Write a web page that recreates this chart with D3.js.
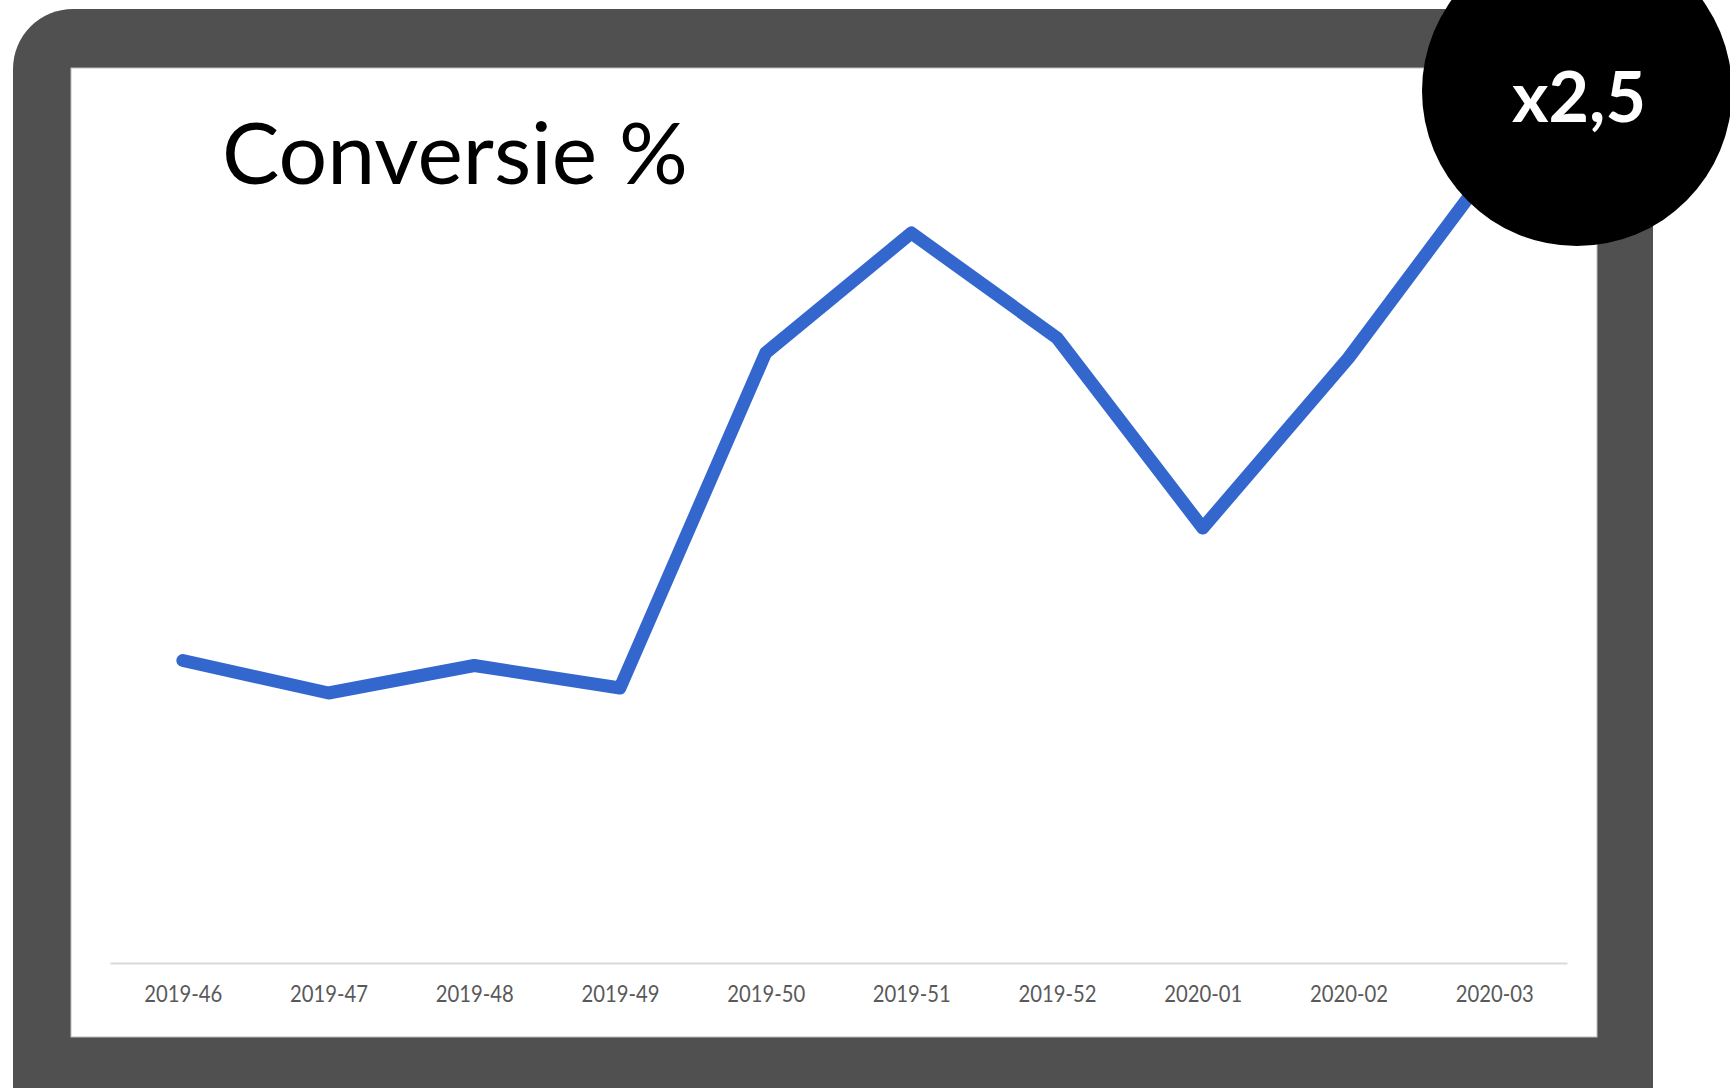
<!DOCTYPE html>
<meta charset="utf-8">

<!-- Load d3.js -->
<script src="https://d3js.org/d3.v7.min.js"></script>

<style>
  body { margin: 0; background: #ffffff; }
</style>

<!-- Create a div where the graph will take place -->
<div id="my_dataviz"></div>

<script>

// chart data
var weeks = ["2019-46", "2019-47", "2019-48", "2019-49", "2019-50",
             "2019-51", "2019-52", "2020-01", "2020-02", "2020-03"];
var conversie = [1.21, 1.08, 1.19, 1.10, 2.44, 2.92, 2.50, 1.74, 2.42, 3.20];
var title = "Conversie %";
var badge = "x2,5";

// dimensions of the page
var width = 1730,
    height = 1088;

// append the svg object to the body of the page
var svg = d3.select("#my_dataviz")
  .append("svg")
    .attr("width", width)
    .attr("height", height);

// dark screen frame
svg.append("rect")
    .attr("x", 13)
    .attr("y", 9)
    .attr("width", 1640)
    .attr("height", 1200)
    .attr("rx", 60)
    .attr("ry", 60)
    .style("fill", "#505050");

// white screen
svg.append("rect")
    .attr("x", 71)
    .attr("y", 68)
    .attr("width", 1526)
    .attr("height", 969)
    .style("fill", "#ffffff")
    .attr("stroke", "#bdbdbd")
    .attr("stroke-width", 1);

// title
svg.append("text")
    .attr("x", 222)
    .attr("y", 184)
    .attr("textLength", 466)
    .attr("lengthAdjust", "spacingAndGlyphs")
    .style("font-family", "Lato, 'Open Sans', sans-serif")
    .style("font-size", "85px")
    .style("fill", "#000000")
    .text(title);

// X axis
var x = d3.scalePoint()
  .domain(weeks)
  .range([110, 1567])
  .padding(0.5);

var xAxis = svg.append("g")
  .attr("transform", "translate(0,963)")
  .call(d3.axisBottom(x).tickSize(0).tickPadding(23));
xAxis.select(".domain")
  .attr("stroke", "#d9d9d9")
  .attr("stroke-width", 2);
xAxis.selectAll("text")
  .attr("textLength", 78)
  .attr("lengthAdjust", "spacingAndGlyphs")
  .style("font-family", "Lato, 'Open Sans', sans-serif")
  .style("font-size", "23px")
  .style("fill", "#595959");

// Y scale (no axis drawn)
var y = d3.scaleLinear()
  .domain([0, 3.6])
  .range([963, 63]);

// Line
svg.append("path")
  .datum(conversie)
  .attr("fill", "none")
  .attr("stroke", "#3467ce")
  .attr("stroke-width", 13)
  .attr("stroke-linejoin", "round")
  .attr("stroke-linecap", "round")
  .attr("d", d3.line()
    .x(function(d, i) { return x(weeks[i]); })
    .y(function(d) { return y(d); }));

// badge
svg.append("circle")
    .attr("cx", 1577)
    .attr("cy", 91)
    .attr("r", 155)
    .style("fill", "#000000");

svg.append("text")
    .attr("x", 1579)
    .attr("y", 122)
    .attr("text-anchor", "middle")
    .attr("textLength", 134)
    .attr("lengthAdjust", "spacingAndGlyphs")
    .style("font-family", "Lato, 'Open Sans', sans-serif")
    .style("font-weight", "bold")
    .style("font-size", "70px")
    .style("fill", "#ffffff")
    .text(badge);

</script>
